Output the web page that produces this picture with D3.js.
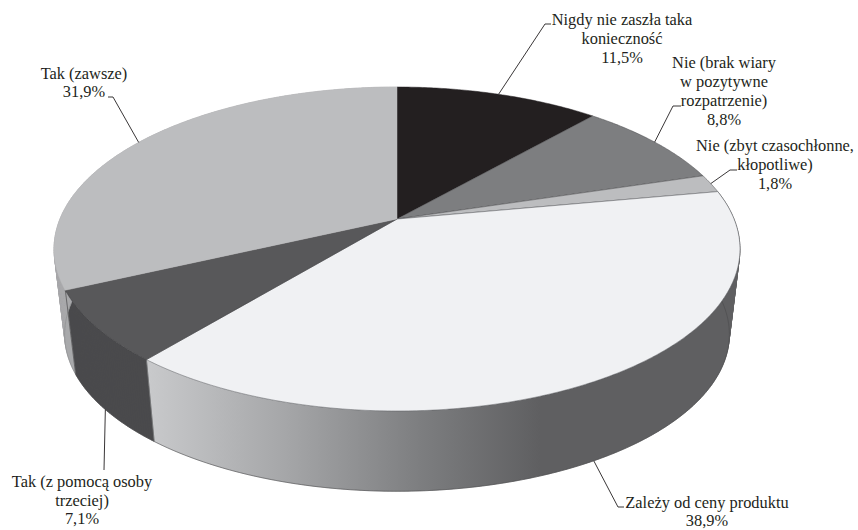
<!DOCTYPE html>
<html><head><meta charset="utf-8"><script src="https://cdn.jsdelivr.net/npm/d3@7"></script>
<style>html,body{margin:0;background:#fff}svg{display:block}text{font-family:"Liberation Serif",serif;font-size:16.4px;fill:#231f20;text-anchor:middle}</style>
</head><body><svg id="c" width="858" height="530"></svg>
<script>
const categories = ["Nigdy nie zaszła taka konieczność","Nie (brak wiary w pozytywne rozpatrzenie)","Nie (zbyt czasochłonne, kłopotliwe)","Zależy od ceny produktu","Tak (z pomocą osoby trzeciej)","Tak (zawsze)"];
const shares = [11.5,8.8,1.8,38.9,7.1,31.9];
const shareLabels = ["11,5%","8,8%","1,8%","38,9%","7,1%","31,9%"];
const labelLines = [["Nigdy nie zaszła taka","konieczność"],["Nie (brak wiary","w pozytywne","rozpatrzenie)"],["Nie (zbyt czasochłonne,","kłopotliwe)"],["Zależy od ceny produktu"],["Tak (z pomocą osoby","trzeciej)"],["Tak (zawsze)"]];
const topColors = ["#231f20","#7d7e80","#bcbdbf","#f0f1f3","#58585a","#bcbdbf"];
const edgeColors = ["#231f20","#4a4a4c","#4a4a4c","#55565a","#3a3a3c","#bcbdbf"];
const wallFill = ["none","none","none","url(#wall)","#4a4a4c","#a8a9ab"];
const baseEdge = ["none","none","none","#4a4a4c","#4a4a4c","#8a8b8d"];
const seamColor = ["none","none","none","none","#77787a","#4a4a4c"];
// Layout, separate from the data
const ell = {cx:397, cy:249, rx:343, ry:162, k:-0.185, vy:3000, s:0.969};
const labelLayout = [
 {x:622,y:25,dy:19,elbow:[545,24],stub:551,wall:false},
 {x:724,y:68,dy:19,elbow:[673,106],stub:681,wall:false},
 {x:775,y:151,dy:19,elbow:[730,170],stub:737,wall:false},
 {x:707,y:508,dy:18,elbow:[618,507],stub:624,wall:true},
 {x:82,y:487,dy:18.7,elbow:[104,470],stub:104,wall:true},
 {x:84,y:79,dy:18,elbow:[113,97],stub:108,wall:false}];

const svg = d3.select("#c");
const pie = d3.pie().sort(null).value(d=>d).startAngle(0).endAngle(2*Math.PI);
const arcs = pie(shares);
const apex = [ell.cx, ell.cy + ell.k*ell.ry];

// rim point at a pie angle under the chart's perspective
function rim(a){
  const x=Math.sin(a), y=-Math.cos(a), k=ell.k, d=1+k*y;
  return [ell.cx + ell.rx*x*Math.sqrt(1-k*k)/d, ell.cy + ell.ry*(y+k)/d];
}
// same rim point on the base of the pie
function base(a){
  const p=rim(a);
  return [ell.cx+(p[0]-ell.cx)*ell.s, ell.vy-(ell.vy-p[1])*ell.s];
}
function samples(a0,a1){
  const n=Math.max(2,Math.ceil((a1-a0)/0.01));
  return d3.range(n+1).map(i=>a0+(a1-a0)*i/n);
}
const line=d3.line();
// wall as quads of one orientation, so overlaps never cancel
function wallPath(a0,a1){
  const as=samples(a0,a1);
  return d3.pairs(as).map(([p,q])=>{
    const quad=[rim(p),rim(q),base(q),base(p)];
    return line(d3.polygonArea(quad)<0?quad.reverse():quad)+"Z";
  }).join("");
}

const defs=svg.append("defs");
const g=defs.append("linearGradient").attr("id","wall").attr("gradientUnits","userSpaceOnUse")
  .attr("x1",150).attr("x2",540).attr("y1",0).attr("y2",0);
[[0,"#c8c9cb"],[0.35,"#a5a6a8"],[0.7,"#7c7d7f"],[1,"#5f5f61"]].forEach(s=>g.append("stop").attr("offset",s[0]).attr("stop-color",s[1]));

const gw=svg.append("g");
arcs.forEach((d,i)=>{
  if(wallFill[i]==="none")return;
  gw.append("path").attr("d",wallPath(d.startAngle,d.endAngle)).attr("fill",wallFill[i]).attr("stroke",wallFill[i]).attr("stroke-width",0.4);
});
arcs.forEach((d,i)=>{
  if(wallFill[i]==="none")return;
  gw.append("path").attr("d",line(samples(d.startAngle,d.endAngle).map(base))).attr("fill","none").attr("stroke",baseEdge[i]).attr("stroke-width",0.6);
  if(seamColor[i]!=="none")gw.append("path").attr("d",line([rim(d.startAngle),base(d.startAngle)])).attr("stroke",seamColor[i]).attr("stroke-width",0.7);
});

// top face
const gt=svg.append("g");
arcs.forEach((d,i)=>{
  const pts=[apex].concat(samples(d.startAngle,d.endAngle).map(rim));
  gt.append("path").attr("d",line(pts)+"Z").attr("fill",topColors[i]).attr("stroke",edgeColors[i]).attr("stroke-width",0.5).attr("stroke-linejoin","round");
});

// labels and leaders
const gl=svg.append("g");
arcs.forEach((d,i)=>{
  const L=labelLayout[i], mid=(d.startAngle+d.endAngle)/2;
  const a=L.wall?base(mid):rim(mid);
  gl.append("path").attr("d",line([a,L.elbow,[L.stub,L.elbow[1]]])).attr("fill","none").attr("stroke","#231f20").attr("stroke-width",0.9);
  const t=gl.append("text");
  labelLines[i].concat(shareLabels[i]).forEach((s,j)=>t.append("tspan").attr("x",L.x).attr("y",L.y+j*L.dy).text(s));
});
</script></body></html>
